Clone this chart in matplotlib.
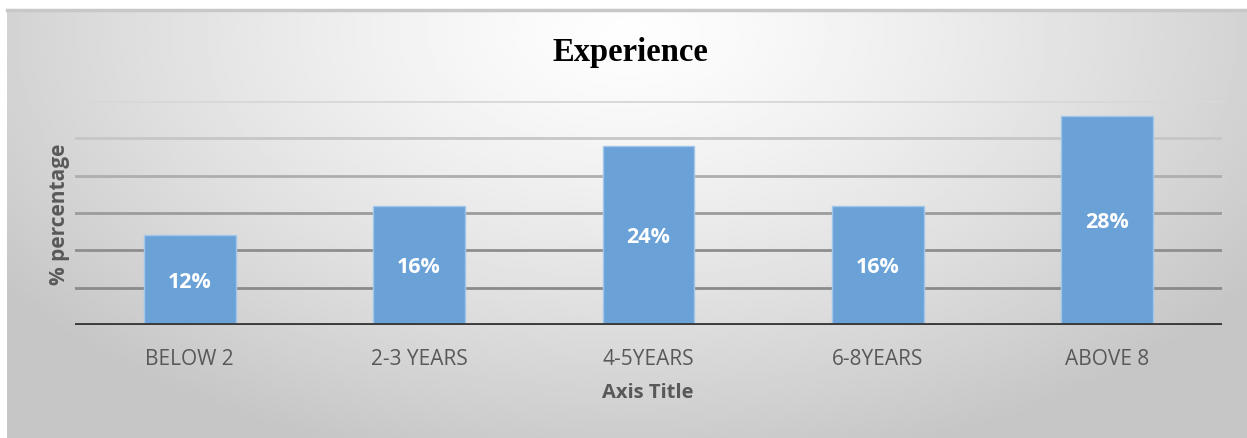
import numpy as np
import matplotlib.pyplot as plt

# data
categories = ['BELOW 2', '2-3 YEARS', '4-5YEARS', '6-8YEARS', 'ABOVE 8']
percent = [12, 16, 24, 16, 28]
grid_levels = [5, 10, 15, 20, 25, 30]

W, H, DPI = 1247, 438, 100
fig = plt.figure(figsize=(W / DPI, H / DPI), dpi=DPI)
fig.patch.set_facecolor('white')

# radial grey background of the chart area
bg = fig.add_axes([7 / W, 0, 1 - 7 / W, (H - 10) / H])
nx, ny = 400, 160
xx, yy = np.meshgrid(np.linspace(0, 1, nx), np.linspace(0, 1, ny))
d = np.sqrt(((xx - 0.5) / 0.62) ** 2 + ((yy - 0.05) / 1.05) ** 2)
shade = 0.995 - 0.22 * np.clip(d, 0, 1) ** 1.3
bg.imshow(shade, cmap='gray', vmin=0, vmax=1, aspect='auto',
          extent=(0, 1, 1, 0), interpolation='bilinear')
bg.set_axis_off()
bg.plot([0, 1], [1, 1], color='#c8c8c8', lw=2.5, transform=bg.transAxes, clip_on=False)

ax = fig.add_axes([75 / W, (H - 325) / H, (1222 - 75) / W, 224 / H])
ax.patch.set_alpha(0)

x = np.arange(len(categories))
grid_colors = ['#8a8a8a', '#8e8e8e', '#9c9c9c', '#aeaeae', '#c6c6c6', '#d8d8d8']
for lvl, c in zip(grid_levels, grid_colors):
    ax.axhline(lvl, color=c, lw=2, zorder=1)

bars = ax.bar(x, percent, width=0.4, color='#6aa1d7', edgecolor='#a0c6ea',
              linewidth=1, zorder=2)
ax.axhline(0, color='#3a3a3a', lw=3.5, zorder=3)

for rect, v in zip(bars, percent):
    ax.text(rect.get_x() + rect.get_width() / 2, v / 2 - 0.3, f'{v}%',
            ha='center', va='center', color='white', fontsize=15.5,
            fontweight='bold', family='Open Sans', zorder=4)

ax.set_xlim(-0.5, len(categories) - 0.5)
ax.set_ylim(0, 30)
ax.set_yticks([])
ax.set_xticks(x)
ax.set_xticklabels(categories, fontsize=15, color='#595959', family='Open Sans')
ax.tick_params(axis='x', length=0, pad=17)
for s in ax.spines.values():
    s.set_visible(False)

fig.text(630 / W, 1 - 53 / H, 'Experience', ha='center', va='center',
         fontsize=23.5, fontweight='bold', family='Liberation Serif', color='black')
fig.text(648 / W, 1 - 393 / H, 'Axis Title', ha='center', va='center',
         fontsize=14.5, fontweight='bold', family='Open Sans', color='#595959')
fig.text(60 / W, 1 - 214 / H, '% percentage', ha='center', va='center',
         rotation=90, fontsize=15, fontweight='bold', family='Open Sans',
         color='#595959')

fig.savefig('out.png', dpi=DPI)
